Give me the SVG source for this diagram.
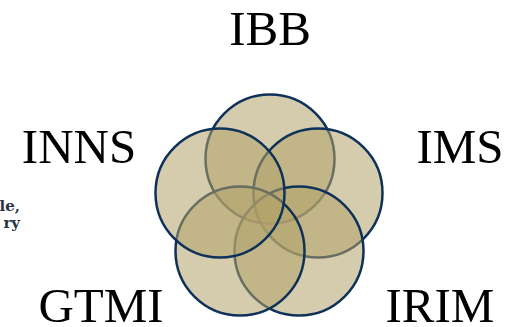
<svg xmlns="http://www.w3.org/2000/svg" width="508" height="327" viewBox="0 0 508 327">
<style>
.c{fill:#b3a369;fill-opacity:0.55;stroke:#0e3159;stroke-width:2.5}
.lbl{font-family:"Liberation Serif",serif;font-size:49px;fill:#000;text-anchor:middle}
.side{font-family:"DejaVu Serif","Liberation Serif",serif;font-size:15px;font-weight:bold;fill:#2b3442;text-anchor:end}
</style>
<rect width="508" height="327" fill="#fff"/>
<g id="connectors"></g>
<g id="circle-top"><circle class="c" cx="270" cy="159" r="64.5"/></g>
<g id="circle-right"><circle class="c" cx="318" cy="193" r="64.5"/></g>
<g id="circle-bottom-right"><circle class="c" cx="299" cy="251" r="64.5"/></g>
<g id="circle-bottom-left"><circle class="c" cx="240" cy="251" r="64.5"/></g>
<g id="circle-left"><circle class="c" cx="220" cy="193" r="64.5"/></g>
<g id="label-IBB"><text class="lbl" x="270" y="45">IBB</text></g>
<g id="label-INNS"><text class="lbl" x="79" y="163">INNS</text></g>
<g id="label-IMS"><text class="lbl" x="460" y="163">IMS</text></g>
<g id="label-GTMI"><text class="lbl" x="101" y="322">GTMI</text></g>
<g id="label-IRIM"><text class="lbl" x="440" y="322">IRIM</text></g>
<g id="side-text"><text class="side" x="20" y="211">le,</text><text class="side" x="20" y="228">ry</text></g>
</svg>
